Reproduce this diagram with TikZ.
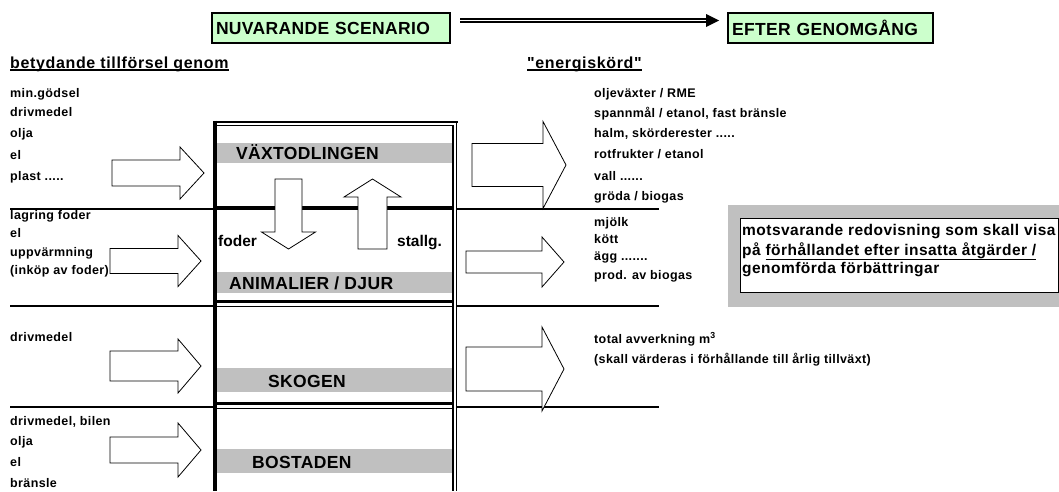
\documentclass[tikz,border=0pt]{standalone}
\usepackage{fontspec}
\setmainfont{Liberation Sans}
\newfontfamily\listfont[LetterSpace=3]{Liberation Sans}
\newfontfamily\headfont[LetterSpace=4]{Liberation Sans}
\newfontfamily\bandfont[LetterSpace=2]{Liberation Sans}
\newfontfamily\notefont[LetterSpace=3]{Liberation Sans}
\usetikzlibrary{arrows.meta}

\definecolor{lightgreen}{RGB}{204,255,204}
\definecolor{bandgrey}{RGB}{192,192,192}

\tikzset{
  item/.style={anchor=base west, inner sep=0pt, font=\listfont\bfseries\fontsize{12.5}{14}\selectfont},
  headline/.style={anchor=base west, inner sep=0pt, font=\headfont\bfseries\fontsize{16}{18}\selectfont},
  bandlabel/.style={anchor=base west, inner sep=0pt, font=\bandfont\bfseries\fontsize{17.5}{20}\selectfont},
  sidelabel/.style={anchor=base west, inner sep=0pt, font=\bfseries\fontsize{15.5}{18}\selectfont},
  notetext/.style={anchor=base west, inner sep=0pt, font=\notefont\bfseries\fontsize{15.5}{18}\selectfont},
  hbox/.style={draw, line width=2pt, fill=lightgreen, anchor=north west, minimum height=30pt,
    inner xsep=3pt, align=left, font=\bandfont\bfseries\fontsize{17.5}{20}\selectfont},
  blockarr/.style={draw, fill=white, line width=0.8pt},
  band/.style={fill=bandgrey},
  hline/.style={line width=2pt},
  uline/.style={line width=1.3pt}
}

% block arrow to the right: x start, x head base, x tip, y centre, body half, head half
\newcommand{\arrowR}[6]{\draw[blockarr] (#1,{#4-#5}) -- (#2,{#4-#5}) -- (#2,{#4-#6}) -- (#3,#4)
  -- (#2,{#4+#6}) -- (#2,{#4+#5}) -- (#1,{#4+#5}) -- cycle;}
% block arrow up/down: x centre, y start, y head base, y tip, body half, head half
\newcommand{\arrowV}[6]{\draw[blockarr] ({#1-#5},#2) -- ({#1-#5},#3) -- ({#1-#6},#3) -- (#1,#4)
  -- ({#1+#6},#3) -- ({#1+#5},#3) -- ({#1+#5},#2) -- cycle;}

\begin{document}
\begin{tikzpicture}[x=1pt, y=-1pt]
    \useasboundingbox (0,0) rectangle (1059,491);

    % headings
    \node[hbox, text width=230pt, minimum width=238pt] (nuv) at (211,12) {NUVARANDE SCENARIO};
    \node[hbox, text width=197pt, minimum width=205pt] (efter) at (727,12) {EFTER GENOMGÅNG};
    \coordinate (arrA) at (460,20.5);
    \coordinate (arrB) at (719,20.5);
    \draw[double, double distance=1.8pt, line width=1.2pt] (arrA) -- ([xshift=-12pt]arrB);
    \fill (arrB) -- ++(-13,-6.5) -- ++(0,13) -- cycle;

    \node[headline] (tillf) at (10,68) {betydande tillförsel genom};
    \node[headline] (skord) at (527,68) {"energiskörd"};
    \draw[uline] ([yshift=-2pt]tillf.base west) -- ([yshift=-2pt]tillf.base east);
    \draw[uline] ([yshift=-2pt]skord.base west) -- ([yshift=-2pt]skord.base east);

    % grey bands
    \fill[band] (217,143) rectangle (453,163);
    \fill[band] (217,272) rectangle (453,293);
    \fill[band] (217,368) rectangle (453,392);
    \fill[band] (217,449) rectangle (453,473);

    % the column
    \draw[line width=3.5pt] (215,120.5) -- (215,491);
    \draw[line width=2pt] (213.5,122) -- (457.5,122);
    \draw[line width=1pt] (216,125.5) -- (453,125.5);
    \draw[line width=1.2pt] (453,125) -- (453,491);
    \draw[line width=1.5pt] (456.5,121) -- (456.5,491);
    \draw[line width=4pt] (216,208) -- (453,208);
    \draw[line width=3pt] (216,301.5) -- (453,301.5);
    \draw[line width=1.2pt] (216,306.5) -- (453,306.5);
    \draw[line width=3pt] (216,403.5) -- (453,403.5);
    \draw[line width=1.2pt] (216,408.5) -- (453,408.5);

    % section lines
    \draw[hline] (10,208.5) -- (214,208.5);
    \draw[hline] (10,305.5) -- (214,305.5);
    \draw[hline] (10,406.5) -- (214,406.5);
    \draw[hline] (457,208.5) -- (659,208.5);
    \draw[hline] (457,305.5) -- (659,305.5);
    \draw[hline] (457,406.5) -- (659,406.5);

    % block arrows
    \arrowR{112}{180}{204}{173}{13}{26}
    \arrowR{110}{178}{201}{261}{12.5}{25.5}
    \arrowR{110}{178}{201}{366}{15}{27}
    \arrowR{110}{178}{201}{450}{13}{27}
    \arrowR{472}{543}{566}{165}{21.5}{43.5}
    \arrowR{466}{542}{564}{262}{11}{25}
    \arrowR{466}{542}{564}{369}{22}{42}
    \arrowV{288.5}{179}{232}{249}{13.5}{27}
    \arrowV{372.5}{249}{197}{179}{14.5}{28.5}

    % section names
    \node[bandlabel] (vaxt) at (236,159) {VÄXTODLINGEN};
    \node[bandlabel] (djur) at (229,289) {ANIMALIER / DJUR};
    \node[bandlabel] (skog) at (268,387) {SKOGEN};
    \node[bandlabel] (bost) at (252,468) {BOSTADEN};
    \node[sidelabel] (foder) at (218,246) {foder};
    \node[sidelabel] (stallg) at (397,246) {stallg.};

    % supply
    \node[item] (in1a) at (10,97) {min.gödsel};
    \node[item] (in1b) at (10,116) {drivmedel};
    \node[item] (in1c) at (10,137) {olja};
    \node[item] (in1d) at (10,159) {el};
    \node[item] (in1e) at (10,180) {plast .....};
    \node[item] (in2a) at (10,219.5) {lagring foder};
    \node[item] (in2b) at (10,237) {el};
    \node[item] (in2c) at (10,256) {uppvärmning};
    \node[item] (in2d) at (10,274) {(inköp av foder)};
    \node[item] (in3a) at (10,341) {drivmedel};
    \node[item] (in4a) at (10,425) {drivmedel, bilen};
    \node[item] (in4b) at (10,445) {olja};
    \node[item] (in4c) at (10,466) {el};
    \node[item] (in4d) at (10,487) {bränsle};

    % harvest
    \node[item] (out1a) at (594,97) {oljeväxter / RME};
    \node[item] (out1b) at (594,117) {spannmål / etanol, fast bränsle};
    \node[item] (out1c) at (594,137) {halm, skörderester .....};
    \node[item] (out1d) at (594,158) {rotfrukter / etanol};
    \node[item] (out1e) at (594,180) {vall ......};
    \node[item] (out1f) at (594,200) {gröda / biogas};
    \node[item] (out2a) at (594,226) {mjölk};
    \node[item] (out2b) at (594,243) {kött};
    \node[item] (out2c) at (594,260) {ägg .......};
    \node[item] (out2d) at (594,279) {prod. av biogas};
    \node[item] (out3a) at (594,343) {total avverkning m\textsuperscript{3}};
    \node[item] (out3b) at (594,363) {(skall värderas i förhållande till årlig tillväxt)};

    % note
    \fill[band] (728,205) rectangle (1059,307);
    \draw[fill=white, line width=0.8pt] (740,218) rectangle (1058.4,292);
    \node[notetext] (note1) at (742,235) {motsvarande redovisning som skall visa};
    \node[notetext] (note2) at (742,255) {på \underline{förhållandet efter insatta åtgärder /}};
    \node[notetext] (note3) at (742,273) {genomförda förbättringar};
\end{tikzpicture}
\end{document}
